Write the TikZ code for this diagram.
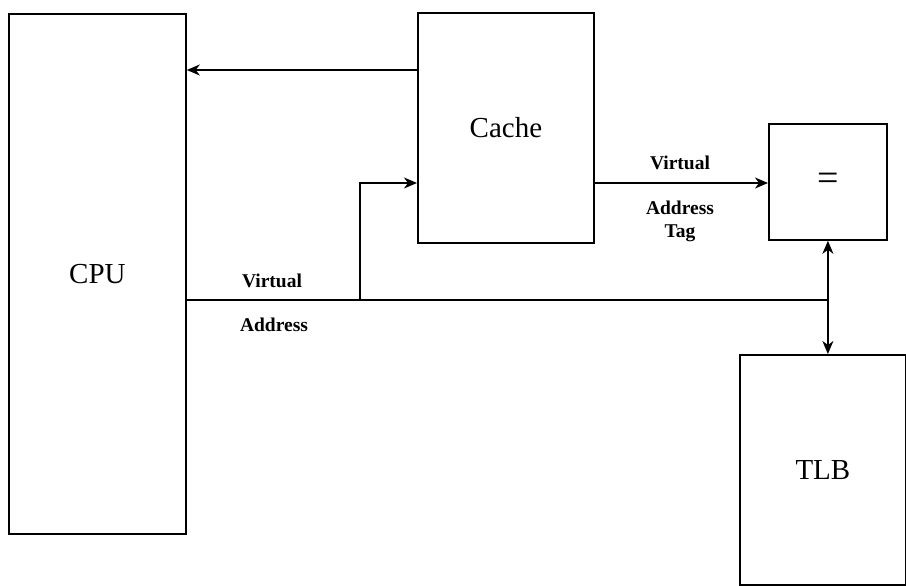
\documentclass[tikz,border=0pt]{standalone}
\usepackage{fontspec}
\setmainfont{Liberation Serif}
\usetikzlibrary{arrows.meta}
\begin{document}
\begin{tikzpicture}[x=1pt,y=-1pt,
  box/.style={draw,line width=1.8pt,inner sep=0pt,anchor=north west,font=\fontsize{29}{33}\selectfont},
  wire/.style={line width=1.5pt},
  tip/.tip={Stealth[length=13pt,width=11pt,inset=4pt]},
  arr/.style={wire,-tip},
  darr/.style={wire,tip-tip},
  lbl/.style={font=\bfseries\fontsize{19.5}{22}\selectfont,inner sep=0pt}]
\useasboundingbox (0,0) rectangle (906,586);
\node[box,minimum width=177pt,minimum height=520pt] (cpu) at (8,13) {CPU};
\node[box,minimum width=176pt,minimum height=230pt] (cache) at (417,12) {Cache};
\node[box,minimum width=118pt,minimum height=116pt,font=\fontsize{38}{40}\selectfont] (eq) at (768,123) {=};
\node[box,minimum width=166pt,minimum height=230pt] (tlb) at (739,354) {TLB};
\coordinate (t) at (0,70);
\coordinate (ci) at (0,183);
\coordinate (b) at (360,300);
\coordinate (j) at (827,300);
\draw[arr] (cache.west |- t) -- (cpu.east |- t);
\draw[wire] (cpu.east |- j) -- (j);
\draw[arr] (b) |- (cache.west |- ci);
\draw[arr] (cache.east |- ci) -- (eq.west |- ci);
\draw[darr] (eq.south) -- (tlb.north -| eq.south);
\node[lbl] (v1) at (272,281) {Virtual};
\node[lbl] (a1) at (274,325) {Address};
\node[lbl] (v2) at (680,163) {Virtual};
\node[lbl] (a2) at (680,208) {Address};
\node[lbl] (tg) at (680,233) {Tag};
\end{tikzpicture}
\end{document}
